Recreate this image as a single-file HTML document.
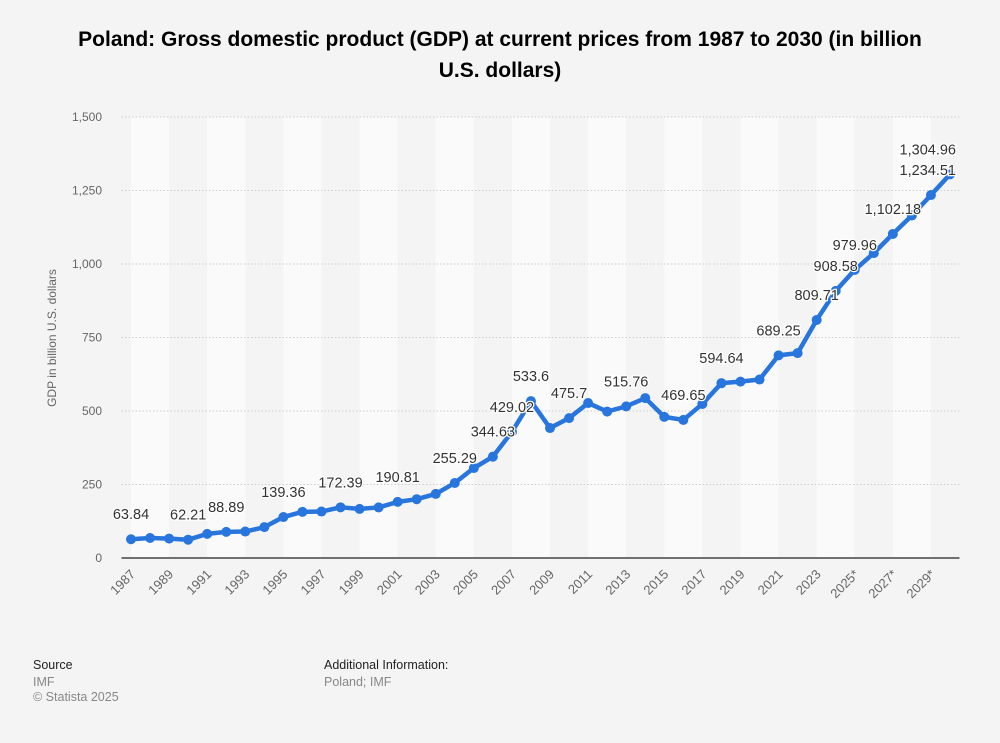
<!DOCTYPE html>
<html><head><meta charset="utf-8"><style>
body{margin:0;background:#f4f4f4;font-family:"Liberation Sans",Arial,sans-serif;}
#wrap{position:relative;width:1000px;height:743px;overflow:hidden;}
h1{position:absolute;left:0;top:24px;width:1000px;margin:0;text-align:center;font-size:21px;line-height:31px;font-weight:bold;color:#000;}
.ft{position:absolute;font-size:12.5px;line-height:15px;}
</style></head><body><div id="wrap">
<h1>Poland: Gross domestic product (GDP) at current prices from 1987 to 2030 (in billion<br>U.S. dollars)</h1>
<svg id="chart" width="1000" height="743" style="position:absolute;left:0;top:0"></svg>
<div class="ft" style="left:33px;top:658px;color:#222">Source</div>
<div class="ft" style="left:33px;top:675px;color:#888">IMF</div>
<div class="ft" style="left:33px;top:690px;color:#888">© Statista 2025</div>
<div class="ft" style="left:324px;top:658px;color:#222">Additional Information:</div>
<div class="ft" style="left:324px;top:675px;color:#888">Poland; IMF</div>
</div>
<script>
const years=[1987,1988,1989,1990,1991,1992,1993,1994,1995,1996,1997,1998,1999,2000,2001,2002,2003,2004,2005,2006,2007,2008,2009,2010,2011,2012,2013,2014,2015,2016,2017,2018,2019,2020,2021,2022,2023,2024,2025,2026,2027,2028,2029,2030];
const xLabels=["1987","","1989","","1991","","1993","","1995","","1997","","1999","","2001","","2003","","2005","","2007","","2009","","2011","","2013","","2015","","2017","","2019","","2021","","2023","","2025*","","2027*","","2029*",""];
const gdp=[63.84,68,66,62.21,82,88.89,90,105,139.36,157,158,172.39,167,172,190.81,200,218,255.29,306,344.63,429.02,533.6,442,475.7,527,498,515.76,544,480,469.65,524,594.64,600,607,689.25,697,809.71,908.58,979.96,1037,1102.18,1165,1234.51,1304.96];
const labelled=[1,0,0,1,0,1,0,0,1,0,0,1,0,0,1,0,0,1,0,1,1,1,0,1,0,0,1,0,0,1,0,1,0,0,1,0,1,1,1,0,1,0,1,1];
const yTicks=[0,250,500,750,1000,1250,1500];
const NS="http://www.w3.org/2000/svg",svg=document.getElementById('chart');
const L=121.5,R=959.5,B=558,T=117,yMax=1500,n=years.length,step=(R-L)/n;
const xs=i=>L+step*(i+0.5), ys=v=>B-(v/yMax)*(B-T);
function mk(t,a,txt){const e=document.createElementNS(NS,t);for(const k in a)e.setAttribute(k,a[k]);if(txt!==undefined)e.textContent=txt;svg.appendChild(e);return e;}
for(let i=0;i<n;i+=2){const x0=xs(i),x1=(i+2<=n-1)?xs(i+2):R;
 const r=mk('rect',{x:x0,y:T,width:x1-x0,height:B-T,fill:((i/2)%2===0)?'#fafafa':'#f4f4f4'});
 
 }
yTicks.forEach(t=>{const y=ys(t);
 if(t>0){const g=mk('line',{x1:L,x2:R,y1:y,y2:y,stroke:'#cfcfcf','stroke-dasharray':'1.5,2'});
 
 }
 const tl=mk('text',{x:102,y:y+4,'text-anchor':'end','font-size':12,fill:'#666'},t.toLocaleString('en-US'));
 
 });
const ax=mk('line',{x1:L,x2:R,y1:B,y2:B,stroke:'#444','stroke-width':1.5});


const yt=mk('text',{x:0,y:0,transform:'translate(56,338) rotate(-90)','text-anchor':'middle','font-size':12,fill:'#666'},'GDP in billion U.S. dollars');


xLabels.forEach((s,i)=>{if(!s)return;const x=xs(i)+5,y=B+17;
 const t=mk('text',{x:x,y:y,transform:`rotate(-45 ${x} ${y})`,'text-anchor':'end','font-size':13,fill:'#666'},s);
 
 });
const pts=gdp.map((v,i)=>xs(i)+','+ys(v)).join(' ');
const pl=mk('polyline',{points:pts,fill:'none',stroke:'#2876dd','stroke-width':4.5,'stroke-linejoin':'round'});


gdp.forEach((v,i)=>{const c=mk('circle',{cx:xs(i),cy:ys(v),r:5,fill:'#2876dd'});
 
 });
gdp.forEach((v,i)=>{if(!labelled[i])return;
 const t=mk('text',{x:xs(i),y:ys(v)-20,'text-anchor':'middle','font-size':14.5,fill:'#333',stroke:'#fff','stroke-width':2.5,'paint-order':'stroke'},v.toLocaleString('en-US',{maximumFractionDigits:2}));
 
 
 const bb=t.getBBox();if(bb.x+bb.width>956){t.setAttribute('text-anchor','end');t.setAttribute('x',956);}});
</script></body></html>
